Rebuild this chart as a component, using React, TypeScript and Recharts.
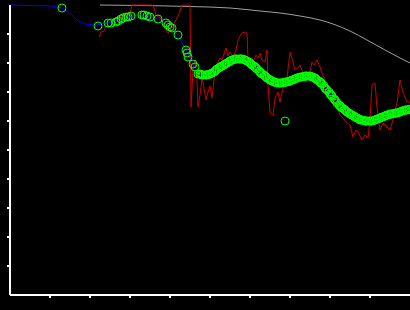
import React from 'react';
import { ComposedChart, Line, Scatter, XAxis, YAxis } from 'recharts';

// x runs 0..400, y runs 0..290 (no tick labels on the original)
const xTicks = [40, 80, 120, 160, 200, 240, 280, 320, 360];
const yTicks = [29, 58, 87, 116, 145, 174, 203, 232, 261];

const grayPts: [number, number][] = [
    [90, 290], [130, 289.5], [180, 288.5], [220, 287], [250, 284], [270, 282],
    [290, 279], [310, 275], [323, 271], [340, 264], [357, 255], [375, 245],
    [390, 237], [400, 232],
];

const redPts: [number, number][] = [
    [89, 258], [91, 263], [94, 264], [96, 269], [99, 267], [101, 270], [103, 268],
    [105, 273], [108, 271], [110, 279], [113, 276], [116, 281], [119, 279], [121, 286],
    [122, 290], [131, 290], [142, 290], [144, 287], [146, 280], [149, 278], [152, 275],
    [155, 266], [158, 262], [160, 264], [163, 269], [166, 275], [169, 281], [171, 287],
    [172, 290], [176, 290], [180, 290], [181, 188], [183, 225], [185, 235], [187, 215],
    [188, 188], [190, 200], [192, 217], [194, 207], [196, 195], [198, 203], [200, 209],
    [202, 197], [204, 215], [206, 229], [208, 233], [210, 237], [212, 235], [214, 241],
    [216, 247], [218, 239], [220, 243], [223, 238], [226, 245], [228, 255], [230, 259],
    [232, 262], [235, 263], [237, 262], [238, 237], [240, 235], [243, 233], [246, 240],
    [248, 237], [250, 242], [252, 235], [255, 233], [257, 245], [258, 210], [260, 183],
    [263, 180], [265, 197], [268, 203], [270, 193], [273, 207], [275, 210], [277, 217],
    [280, 243], [283, 233], [285, 225], [288, 227], [290, 230], [293, 222], [296, 213],
    [299, 217], [302, 233], [304, 230], [307, 235], [310, 228], [312, 222], [315, 215],
    [318, 205], [320, 198], [323, 195], [326, 190], [328, 185], [330, 180], [333, 177],
    [336, 173], [340, 170], [343, 158], [346, 165], [348, 163], [352, 155], [355, 160],
    [358, 157], [360, 175], [362, 210], [365, 212], [367, 188], [370, 165], [373, 172],
    [377, 168], [380, 165], [383, 175], [387, 192], [390, 215], [393, 203], [397, 193],
    [400, 193],
];

const bluePts: [number, number][] = [
    [0, 290], [42, 289], [52, 287], [60, 282], [68, 274], [75, 271], [87, 270],
    [98, 272], [111, 276], [121, 279], [132, 280], [140, 278], [148, 276], [160, 268],
    [168, 260], [176, 245], [183, 231], [188, 221], [200, 221], [210, 228], [220, 234],
    [230, 236], [240, 232], [250, 223], [260, 215], [270, 212], [280, 214], [290, 218],
    [300, 219], [310, 213], [320, 201], [330, 189], [340, 181], [350, 175], [360, 174],
    [370, 177], [380, 181], [390, 183], [400, 186],
];

const greenPts: [number, number][] = [
    [52, 287], [88, 269], [98, 272], [101, 272], [106, 273], [108, 274], [111, 276],
    [113, 277], [116, 278], [118, 278], [121, 279], [132, 280], [134, 280], [137, 279],
    [140, 278], [148, 276], [156, 272], [158, 270], [160, 268], [162, 267], [168, 260],
    [176, 245], [177, 242], [178, 238], [183, 231], [185, 228], [188, 221],
    [190, 221], [191, 220.5], [192, 220], [193, 220], [195, 220], [196, 220], [197, 220],
    [198, 220.5], [200, 221], [201, 221.5], [202, 222], [204, 223], [205, 224], [206, 225],
    [207, 226], [209, 227], [210, 228], [211, 228.5], [212, 229], [214, 230], [215, 231],
    [216, 231.5], [217, 232], [219, 233], [220, 234], [221, 234.5], [222, 235], [224, 235.5],
    [225, 236], [226, 236], [227, 236], [229, 236], [230, 236], [231, 236], [232, 236],
    [234, 235.5], [235, 235], [236, 234.5], [237, 234], [239, 233], [240, 232], [241, 231],
    [242, 230], [244, 229], [245, 228], [246, 227], [247, 226], [249, 224], [250, 223],
    [251, 222], [252, 221], [254, 220], [255, 219], [256, 218], [257, 217], [259, 216],
    [260, 215], [261, 214.5], [262, 214], [264, 213], [265, 213], [266, 212.5], [267, 212],
    [269, 212], [270, 212], [271, 212], [272, 212], [274, 212.5], [275, 213], [276, 213],
    [277, 213], [279, 213.5], [280, 214], [281, 214.5], [282, 215], [284, 215.5], [285, 216],
    [286, 216.5], [287, 217], [289, 217.5], [290, 218], [291, 218], [292, 218], [294, 218.5],
    [295, 219], [296, 219], [297, 219], [299, 219], [300, 219], [301, 218.5], [302, 218],
    [304, 217.5], [305, 217], [306, 216], [307, 215], [309, 214], [310, 213], [311, 212],
    [312, 211], [314, 209], [315, 207], [316, 206], [317, 205], [319, 203], [320, 201],
    [321, 200], [322, 199], [324, 196], [325, 195], [326, 193.5], [327, 192], [329, 190],
    [330, 189], [331, 188], [332, 187], [334, 186], [335, 185], [336, 184], [337, 183],
    [339, 182], [340, 181], [341, 180.5], [342, 180], [344, 179], [345, 178], [346, 177.5],
    [347, 177], [349, 176], [350, 175], [351, 175], [352, 175], [354, 174.5], [355, 174],
    [356, 174], [357, 174], [359, 174], [360, 174], [361, 174], [362, 174], [364, 174.5],
    [365, 175], [366, 175.5], [367, 176], [369, 176.5], [370, 177], [371, 177.5], [372, 178],
    [374, 178.5], [375, 179], [376, 179.5], [377, 180], [379, 180.5], [380, 181], [381, 181],
    [382, 181], [384, 181.5], [385, 182], [386, 182], [387, 182], [389, 182.5], [390, 183],
    [391, 183.5], [392, 184], [394, 184.5], [395, 185], [396, 185], [397, 185], [399, 185.5],
    [400, 186],
    [275, 174],
];

const toRows = (pts: [number, number][]) => pts.map(([x, y]) => ({ x, y }));

const Ring = (props: any) => (
    <circle cx={props.cx} cy={props.cy} r={4} fill="none" stroke="#00ff00" strokeWidth={1} />
);

const NoLabel = () => <g />;

const App: React.FC = () => {
    return (
        <div style={{ position: 'absolute', left: 0, top: 0, width: 410, height: 310, background: '#000' }}>
            <ComposedChart width={410} height={310} margin={{ top: 5, right: 0, left: 0, bottom: 0 }}>
                <XAxis
                    type="number"
                    dataKey="x"
                    domain={[0, 400]}
                    ticks={xTicks}
                    tick={NoLabel}
                    tickSize={3}
                    height={15}
                    axisLine={{ stroke: '#fff', strokeWidth: 2 }}
                    tickLine={{ stroke: '#fff', strokeWidth: 2 }}
                />
                <YAxis
                    type="number"
                    dataKey="y"
                    domain={[0, 290]}
                    ticks={yTicks}
                    tick={NoLabel}
                    tickSize={3}
                    width={10}
                    axisLine={{ stroke: '#fff', strokeWidth: 2 }}
                    tickLine={{ stroke: '#fff', strokeWidth: 2 }}
                />
                <Line data={toRows(grayPts)} dataKey="y" type="monotone" stroke="#a0a0a0" strokeWidth={1} dot={false} isAnimationActive={false} />
                <Line data={toRows(redPts)} dataKey="y" type="linear" stroke="#cc0000" strokeWidth={1} dot={false} isAnimationActive={false} />
                <Line data={toRows(bluePts)} dataKey="y" type="linear" stroke="#0000ff" strokeWidth={1} dot={false} isAnimationActive={false} />
                <Scatter data={toRows(greenPts)} dataKey="y" shape={Ring} isAnimationActive={false} />
            </ComposedChart>
        </div>
    );
};

export default App;
